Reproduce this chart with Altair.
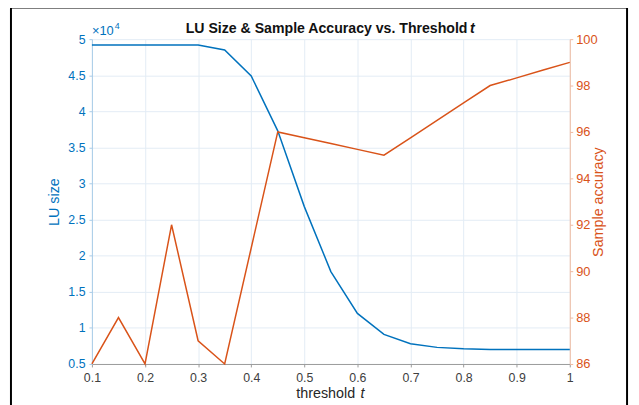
import altair as alt
import pandas as pd

# ---- data ----
threshold = [0.10, 0.15, 0.20, 0.25, 0.30, 0.35, 0.40, 0.45, 0.50, 0.55,
             0.60, 0.65, 0.70, 0.75, 0.80, 0.85, 0.90, 0.95, 1.00]
lu_size = [49200, 49200, 49200, 49200, 49200, 48500, 44900, 37300, 26800, 17800,
           12000, 9100, 7800, 7300, 7100, 7000, 7000, 7000, 7000]
accuracy = [86, 88, 86, 92, 87, 86, 91, 96, 95.75, 95.5,
            95.25, 95, 95.75, 96.5, 97.25, 98, 98.33, 98.67, 99]

x_ticks = [0.1, 0.2, 0.3, 0.4, 0.5, 0.6, 0.7, 0.8, 0.9, 1.0]
lu_ticks = [5000, 10000, 15000, 20000, 25000, 30000, 35000, 40000, 45000, 50000]
acc_ticks = [86, 88, 90, 92, 94, 96, 98, 100]

BLUE = "#0072BD"
ORANGE = "#D95319"
FONT = "Liberation Sans"

df = pd.DataFrame({"t": threshold, "lu": lu_size, "acc": accuracy})

W, H = 484, 329

xenc = alt.X(
    "t:Q",
    scale=alt.Scale(domain=[0.1, 1.0], nice=False, zero=False),
    axis=alt.Axis(values=x_ticks, format=".1~f", title=None, grid=True,
                  gridColor="#e3ecf5", gridWidth=1, domainColor="#9a9a9a",
                  tickColor="#9a9a9a", tickSize=3, labelColor="#404040",
                  labelFontSize=12.5, labelPadding=5, labelFont=FONT,
                  labelFlush=False),
)

blue = alt.Chart(df).mark_line(color=BLUE, strokeWidth=1.5).encode(
    x=xenc,
    y=alt.Y(
        "lu:Q",
        scale=alt.Scale(domain=[5000, 50000], nice=False, zero=False),
        axis=alt.Axis(values=lu_ticks, labelExpr="datum.value/10000",
                      title="LU size", titleColor=BLUE, titleFontSize=14.5,
                      titleFontWeight="normal", titleFont=FONT, titlePadding=6,
                      labelColor=BLUE, labelFontSize=12.5, labelFont=FONT,
                      grid=True, gridColor="#e3ecf5", domainColor="#a8cbe8",
                      tickColor="#a8cbe8", tickSize=3, labelPadding=4,
                      labelFlush=False),
    ),
)

orange = alt.Chart(df).mark_line(color=ORANGE, strokeWidth=1.5).encode(
    x=alt.X("t:Q", scale=alt.Scale(domain=[0.1, 1.0], nice=False, zero=False)),
    y=alt.Y(
        "acc:Q",
        scale=alt.Scale(domain=[86, 100], nice=False, zero=False),
        axis=alt.Axis(orient="right", values=acc_ticks, title="Sample accuracy",
                      titleColor=ORANGE, titleFontSize=14.5, titleFontWeight="normal",
                      titleFont=FONT, titleAngle=270, titlePadding=8,
                      labelColor=ORANGE, labelFontSize=13, labelFont=FONT,
                      grid=False, domainColor="#f0b9a0", tickColor="#f0b9a0",
                      tickSize=3, labelPadding=3, labelFlush=False),
    ),
)

lab = pd.DataFrame({"k": [0]})
base = alt.Chart(lab)

title1 = base.mark_text(align="left", baseline="alphabetic", font=FONT,
                        fontSize=14.3, fontWeight="bold", color="#111111").encode(
    x=alt.value(95), y=alt.value(-6),
    text=alt.value("LU Size & Sample Accuracy vs. Threshold"))
title2 = base.mark_text(align="left", baseline="alphabetic", font=FONT,
                        fontSize=14.3, fontWeight="bold", fontStyle="italic",
                        color="#111111").encode(
    x=alt.value(383), y=alt.value(-6), text=alt.value("t"))

xt1 = base.mark_text(align="left", baseline="alphabetic", font=FONT,
                     fontSize=14.5, color="#262626").encode(
    x=alt.value(207), y=alt.value(H + 34), text=alt.value("threshold"))
xt2 = base.mark_text(align="left", baseline="alphabetic", font=FONT,
                     fontSize=14.5, fontStyle="italic", color="#262626").encode(
    x=alt.value(272), y=alt.value(H + 34), text=alt.value("t"))

expo1 = base.mark_text(align="left", baseline="alphabetic", font=FONT,
                       fontSize=13, color=BLUE).encode(
    x=alt.value(0), y=alt.value(-4), text=alt.value("×10"))
expo2 = base.mark_text(align="left", baseline="alphabetic", font=FONT,
                       fontSize=9, color=BLUE).encode(
    x=alt.value(23), y=alt.value(-10), text=alt.value("4"))

frame = base.mark_rect(fill=None, stroke="black", strokeWidth=2).encode(
    x=alt.value(-82), x2=alt.value(542), y=alt.value(-32), y2=alt.value(430))

chart = alt.layer(blue, orange, title1, title2, xt1, xt2, expo1, expo2, frame).resolve_scale(
    y="independent"
).properties(
    width=W, height=H,
    autosize=alt.AutoSizeParams(type="none"),
    padding={"left": 85, "top": 29, "right": 62, "bottom": 39},
).configure_view(stroke=None)

chart.save("out.html", embed_options={"renderer": "svg", "actions": False})
